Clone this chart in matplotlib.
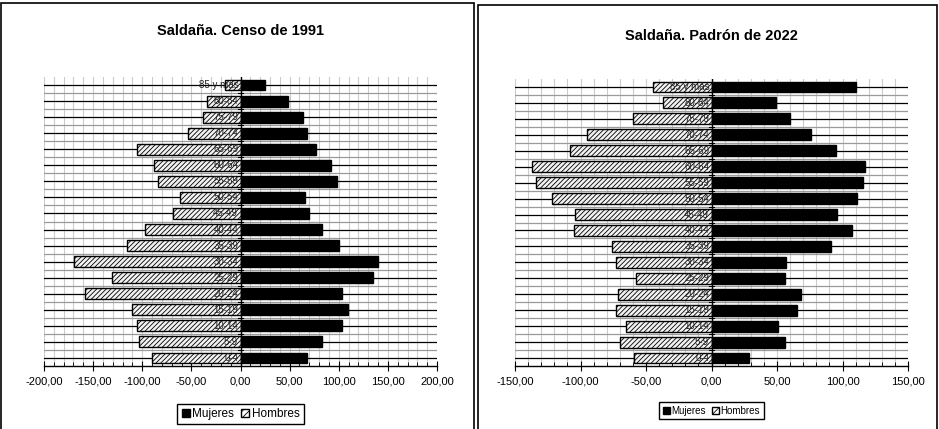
import numpy as np
import matplotlib
matplotlib.use("Agg")
import matplotlib.pyplot as plt
from matplotlib.patches import Rectangle, Patch
from matplotlib.ticker import MultipleLocator, FuncFormatter

plt.rcParams['font.family'] = ['Liberation Sans', 'DejaVu Sans']
plt.rcParams['hatch.linewidth'] = 0.6

ages = ["0-4", "5-9", "10-14", "15-19", "20-24", "25-29", "30-34", "35-39",
        "40-44", "45-49", "50-54", "55-59", "60-64", "65-69", "70-74",
        "75-79", "80-84", "85 y más"]

# censo 1991
hombres_1991 = [90, 103, 105, 110, 158, 131, 169, 116, 97, 69,
                62, 84, 88, 105, 53, 38, 34, 16]
mujeres_1991 = [68, 83, 103, 109, 103, 135, 140, 100, 83, 70,
                66, 98, 92, 77, 68, 64, 48, 25]

# padron 2022
hombres_2022 = [59, 70, 65, 73, 71, 58, 73, 76, 105, 104,
                122, 134, 137, 108, 95, 60, 37, 45]
mujeres_2022 = [29, 56, 51, 65, 68, 56, 57, 91, 107, 96,
                111, 116, 117, 95, 76, 60, 49, 110]


def coma(v, pos):
    return f"{v:.2f}".replace(".", ",")


def piramide(ax, titulo, hombres, mujeres, lim, pad, lab_fs, leg_fs):
    y = np.arange(len(ages))
    ax.set_xlim(-lim, lim)
    ax.set_ylim(-0.5, len(ages) - 0.5)

    # rejilla al estilo hoja de calculo
    for v in np.arange(-lim, lim + 1, 10):
        ax.axvline(v, color="#cccccc", lw=0.8, zorder=0)
    for yy in y:
        ax.axhline(yy, color="black", lw=0.9, zorder=1)
    for yy in y[:-1] + 0.5:
        ax.axhline(yy, color="#9a9a9a", lw=0.9, zorder=1)

    ax.barh(y, [-h for h in hombres], height=0.68, color="#f2f2f2",
            edgecolor="black", hatch="///////", lw=1.0, zorder=2)
    ax.barh(y, mujeres, height=0.68, color="black", edgecolor="black",
            lw=1.0, zorder=2)

    ax.axvline(0, color="black", lw=1.0, zorder=3)
    for yy in y[:-1] + 0.5:
        ax.plot([-lim * 0.012, lim * 0.012], [yy, yy], color="black",
                lw=0.8, zorder=3)
    for yy, lab in zip(y, ages):
        ax.text(-lim * 0.012, yy, lab, ha="right", va="center",
                fontsize=lab_fs, color="#222222", zorder=4)

    ax.set_yticks([])
    ax.xaxis.set_major_locator(MultipleLocator(50))
    ax.xaxis.set_minor_locator(MultipleLocator(10))
    ax.xaxis.set_major_formatter(FuncFormatter(coma))
    ax.tick_params(axis="x", which="major", direction="inout", length=7,
                   width=0.8, labelsize=8, pad=4)
    ax.tick_params(axis="x", which="minor", direction="in", length=3,
                   width=0.6)
    for s in ["left", "right", "top"]:
        ax.spines[s].set_visible(False)
    ax.spines["bottom"].set_linewidth(1.0)

    ax.set_title(titulo, fontsize=10.5, fontweight="bold", pad=pad)

    handles = [Patch(facecolor="black", edgecolor="black", label="Mujeres"),
               Patch(facecolor="white", edgecolor="black", hatch="/////",
                     label="Hombres")]
    ax.legend(handles=handles, loc="upper center", ncol=2,
              bbox_to_anchor=(0.5, -0.11), fontsize=leg_fs, frameon=True,
              fancybox=False, edgecolor="black", handlelength=0.7,
              handleheight=0.7, handletextpad=0.2, columnspacing=0.6,
              borderpad=0.35, framealpha=1)


fig = plt.figure(figsize=(9.39, 4.29), dpi=100)

ax1 = fig.add_axes([44 / 939, 63 / 429, 393 / 939, 289 / 429])
ax2 = fig.add_axes([515 / 939, 63 / 429, 393 / 939, 287 / 429])

piramide(ax1, "Saldaña. Censo de 1991", hombres_1991, mujeres_1991,
         200, 30, 7, 8.5)
piramide(ax2, "Saldaña. Padrón de 2022", hombres_2022, mujeres_2022,
         150, 28, 7, 7)

# marcos de cada grafico
fig.patches.append(Rectangle((1 / 939, -0.05), 473 / 939, 1 - 3 / 429 + 0.05,
                             transform=fig.transFigure, fill=False,
                             edgecolor="black", lw=1.2))
fig.patches.append(Rectangle((478 / 939, -0.05), 459 / 939, 1 - 5 / 429 + 0.05,
                             transform=fig.transFigure, fill=False,
                             edgecolor="black", lw=1.2))

fig.savefig("out.png", dpi=100)
